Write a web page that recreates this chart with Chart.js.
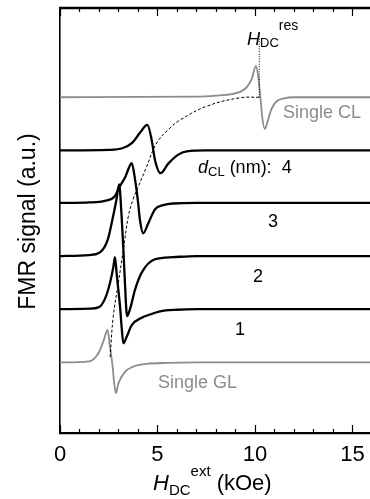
<!DOCTYPE html>
<html>
<head>
<meta charset="utf-8">
<script src="https://cdn.jsdelivr.net/npm/chart.js@4"></script>
<style>
  html, body { margin: 0; padding: 0; background: #fff; }
</style>
</head>
<body>
<canvas id="chart" width="370" height="499"></canvas>
<script>
"use strict";

// field values (kOe) and signal offsets from each trace's baseline (a.u.)
const clField  = [0, 7, 8, 8.8, 9.3, 9.6, 9.85, 10.05, 10.18, 10.28, 10.38, 10.51, 10.65, 10.85, 11.1, 11.5, 12, 15.9];
const clSignal = [0, 0.01, 0.03, 0.06, 0.11, 0.2, 0.36, 0.59, 0.35, 0, -0.4, -0.6, -0.45, -0.22, -0.08, -0.02, 0, 0];

const d4Field  = [0, 2.5, 3.2, 3.7, 4.1, 4.48, 4.7, 4.87, 5.16, 5.55, 6.07, 6.5, 7.5, 15.9];
const d4Signal = [0, 0.01, 0.04, 0.14, 0.33, 0.48, 0.2, -0.18, -0.43, -0.25, -0.08, -0.02, 0, 0];

const d3Field  = [0, 1.5, 2.3, 2.8, 3.05, 3.36, 3.53, 3.68, 3.85, 3.99, 4.1, 4.27, 4.53, 4.87, 5.3, 5.8, 7, 15.9];
const d3Signal = [0, 0.01, 0.04, 0.12, 0.3, 0.5, 0.66, 0.75, 0.44, 0.06, -0.32, -0.57, -0.38, -0.12, -0.04, -0.01, 0, 0];

const d2Field  = [0, 1.5, 2.05, 2.45, 2.73, 2.9, 3.03, 3.16, 3.25, 3.33, 3.44, 3.59, 3.85, 4.19, 4.87, 5.8, 7, 15.9];
const d2Signal = [0, 0.02, 0.07, 0.31, 0.76, 1.07, 1.35, 0.75, 0.13, -0.5, -1.13, -1.0, -0.63, -0.31, -0.06, -0.02, 0, 0];

const d1Field  = [0, 1.5, 2.0, 2.31, 2.56, 2.73, 2.82, 2.91, 3.08, 3.16, 3.25, 3.42, 3.68, 4.19, 4.62, 5.13, 6, 7, 15.9];
const d1Signal = [0, 0.01, 0.04, 0.2, 0.49, 0.78, 0.98, 0.65, 0.05, -0.33, -0.64, -0.52, -0.3, -0.16, -0.1, -0.04, -0.01, 0, 0];

const glField  = [0, 1.5, 1.97, 2.22, 2.44, 2.56, 2.7, 2.78, 2.87, 2.99, 3.33, 3.76, 4.45, 5.5, 7, 15.9];
const glSignal = [0, 0.02, 0.17, 0.39, 0.61, 0.3, -0.08, -0.4, -0.58, -0.4, -0.18, -0.08, -0.03, -0.01, 0, 0];

// baselines of the stacked traces
const baseCL = 6.32, baseD4 = 5.32, baseD3 = 4.33, baseD2 = 3.33, baseD1 = 2.33, baseGL = 1.33;

// dashed guide through the resonances and the H_res marker
const guideField  = [10.22, 9.23, 7.52, 6.15, 5.64, 4.96, 4.45, 4.02, 3.74, 3.50, 3.25, 2.99, 2.73, 2.57];
const guideSignal = [6.32, 6.31, 6.15, 5.89, 5.74, 5.46, 5.02, 4.64, 4.39, 4.07, 3.45, 2.82, 2.19, 1.43];
const resField  = [10.22, 10.22];
const resSignal = [6.32, 7.52];

// axis ticks: labelled majors, plus a minor mark every kOe
const xTicks = [0, 5, 10, 15];
const xMinorTicks = [0, 1, 2, 3, 4, 5, 6, 7, 8, 9, 10, 11, 12, 13, 14, 15];

const FONT = "'Liberation Sans', Arial, sans-serif";
const GRAY = '#8c8c8c';

function trace(field, signal, base) {
    return field.map((x, i) => ({ x: x, y: base + signal[i] }));
}

function line(data, color, width) {
    return {
        data: data,
        borderColor: color,
        borderWidth: width,
        pointRadius: 0,
        fill: false,
        cubicInterpolationMode: 'monotone'
    };
}

let datasets = [
    Object.assign(line(guideField.map((x, i) => ({ x: x, y: guideSignal[i] })), '#000', 1),
        { borderDash: [3, 2], cubicInterpolationMode: 'default', tension: 0.4 }),
    Object.assign(line(resField.map((x, i) => ({ x: x, y: resSignal[i] })), '#000', 1),
        { borderDash: [1, 1.5] }),
    line(trace(clField, clSignal, baseCL), GRAY, 1.8),
    line(trace(d4Field, d4Signal, baseD4), '#000', 2.3),
    line(trace(d3Field, d3Signal, baseD3), '#000', 2.3),
    line(trace(d2Field, d2Signal, baseD2), '#000', 2.3),
    line(trace(d1Field, d1Signal, baseD1), '#000', 2.3),
    line(trace(glField, glSignal, baseGL), GRAY, 1.8)
];

// write a run of text pieces: [text, size, dy, italic]
function richText(ctx, parts, x, y, color) {
    ctx.fillStyle = color;
    ctx.textAlign = 'left';
    ctx.textBaseline = 'alphabetic';
    parts.forEach(p => {
        ctx.font = (p[3] ? 'italic ' : '') + p[1] + 'px ' + FONT;
        ctx.fillText(p[0], x, y + p[2]);
        x += ctx.measureText(p[0]).width;
    });
}

const decorations = {
    id: 'decorations',
    afterDraw(chart) {
        const ctx = chart.ctx;
        const area = chart.chartArea;
        const xs = chart.scales.x;
        ctx.save();

        // top frame line
        ctx.strokeStyle = '#000';
        ctx.lineWidth = 2.3;
        ctx.beginPath();
        ctx.moveTo(area.left - 1, area.top);
        ctx.lineTo(area.right, area.top);
        ctx.stroke();

        // inward ticks top and bottom
        ctx.lineWidth = 1.2;
        xMinorTicks.forEach(v => {
            const px = Math.round(xs.getPixelForValue(v)) + 0.5;
            const len = xTicks.includes(v) ? 8 : 4;
            ctx.beginPath();
            ctx.moveTo(px, area.bottom);
            ctx.lineTo(px, area.bottom - len);
            ctx.moveTo(px, area.top);
            ctx.lineTo(px, area.top + len);
            ctx.stroke();
        });

        // y title
        ctx.save();
        ctx.translate(35, (area.top + area.bottom) / 2 + 1);
        ctx.rotate(-Math.PI / 2);
        ctx.fillStyle = '#000';
        ctx.font = '23px ' + FONT;
        ctx.textAlign = 'center';
        ctx.textBaseline = 'alphabetic';
        ctx.fillText('FMR signal (a.u.)', 0, 0);
        ctx.restore();

        // x title
        richText(ctx, [['H', 22, 0, true], ['DC', 15, 5], ['ext', 15, -14], [' (kOe)', 22, 0]], 153, 490, '#000');

        // annotations
        richText(ctx, [['H', 18, 0, true], ['DC', 13, 2], ['res', 14, -15]], 247, 45, '#000');
        richText(ctx, [['d', 18, 0, true], ['CL', 13, 3], [' (nm):  4', 18, 0]], 198, 173, '#000');
        ctx.textAlign = 'center';
        ctx.font = '18px ' + FONT;
        ctx.fillText('3', 273, 227);
        ctx.fillText('2', 258, 282);
        ctx.fillText('1', 240, 335);
        richText(ctx, [['Single CL', 18, 0]], 283, 118, GRAY);
        richText(ctx, [['Single GL', 18, 0]], 158, 388, GRAY);

        ctx.restore();
    }
};

new Chart(document.getElementById('chart').getContext('2d'), {
    type: 'line',
    data: { datasets: datasets },
    options: {
        responsive: false,
        animation: false,
        layout: { padding: { top: 8, right: 0, left: 0, bottom: 0 } },
        plugins: { legend: { display: false }, tooltip: { enabled: false } },
        scales: {
            x: {
                type: 'linear',
                min: 0,
                max: 15.9,
                afterBuildTicks: s => { s.ticks = xTicks.map(v => ({ value: v })); },
                grid: { display: false, drawTicks: false },
                border: { display: true, color: '#000', width: 2.3 },
                ticks: {
                    autoSkip: false,
                    maxRotation: 0,
                    padding: 9,
                    color: '#000',
                    font: { family: FONT, size: 22 },
                    callback: v => String(v)
                },
                afterFit: s => {
                    s.height = 66;
                    s.paddingLeft = 0;
                    s.paddingRight = 0;
                }
            },
            y: {
                type: 'linear',
                min: 0,
                max: 8,
                grid: { display: false },
                border: { display: true, color: '#000', width: 1.6 },
                ticks: { display: false },
                afterFit: s => { s.width = 60; }
            }
        }
    },
    plugins: [decorations]
});
</script>
</body>
</html>
